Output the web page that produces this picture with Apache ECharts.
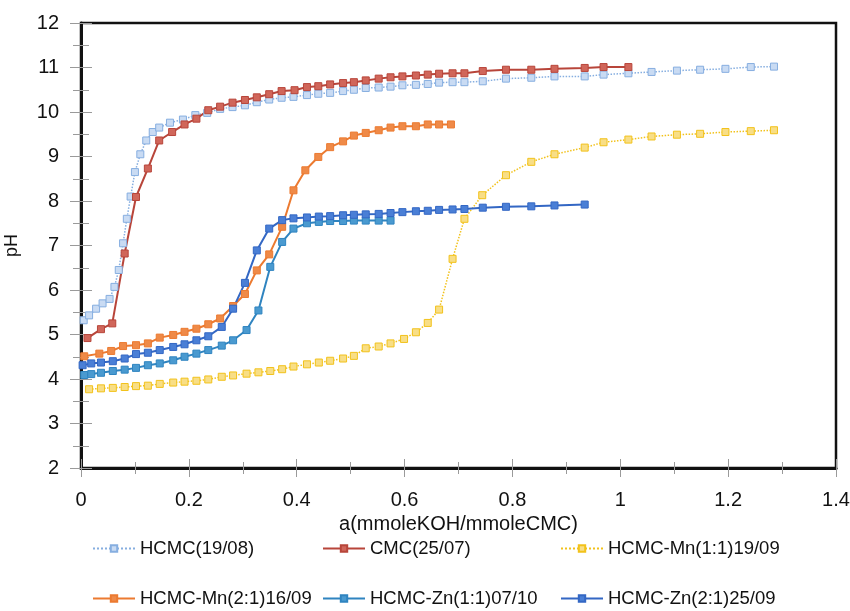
<!DOCTYPE html>
<html>
<head>
<meta charset="utf-8">
<script src="https://cdn.jsdelivr.net/npm/echarts@6/dist/echarts.min.js"></script>
<style>
  html, body { margin: 0; padding: 0; background: #fff; }
  #chart { width: 850px; height: 611px; }
</style>
</head>
<body>
<div id="chart"></div>
<script>
// Titration curves: pH versus a (mmole KOH per mmole CMC)
const seriesNames = [
  'HCMC(19/08)',
  'CMC(25/07)',
  'HCMC-Mn(1:1)19/09',
  'HCMC-Mn(2:1)16/09',
  'HCMC-Zn(1:1)07/10',
  'HCMC-Zn(2:1)25/09'
];

const hcmc = [[0.005,5.32],[0.015,5.43],[0.028,5.58],[0.04,5.70],[0.053,5.80],[0.062,6.07],[0.07,6.45],[0.078,7.05],[0.085,7.6],[0.092,8.1],[0.1,8.65],[0.11,9.05],[0.121,9.36],[0.133,9.55],[0.145,9.65],[0.165,9.76],[0.189,9.83],[0.212,9.93],[0.234,9.98],[0.258,10.07],[0.281,10.11],[0.304,10.15],[0.326,10.22],[0.349,10.28],[0.372,10.32],[0.394,10.34],[0.419,10.38],[0.44,10.41],[0.462,10.43],[0.486,10.47],[0.506,10.50],[0.528,10.54],[0.552,10.55],[0.574,10.57],[0.596,10.6],[0.621,10.61],[0.643,10.63],[0.664,10.66],[0.689,10.67],[0.711,10.67],[0.745,10.69],[0.788,10.75],[0.835,10.77],[0.878,10.8],[0.934,10.8],[0.969,10.84],[1.015,10.87],[1.058,10.9],[1.105,10.93],[1.148,10.95],[1.195,10.97],[1.242,11.01],[1.285,11.02]];

const cmc = [[0.012,4.92],[0.037,5.12],[0.058,5.25],[0.081,6.82],[0.102,8.09],[0.124,8.73],[0.145,9.36],[0.169,9.55],[0.192,9.72],[0.214,9.85],[0.236,10.04],[0.258,10.12],[0.281,10.21],[0.304,10.27],[0.326,10.33],[0.349,10.40],[0.372,10.47],[0.396,10.49],[0.419,10.56],[0.44,10.58],[0.462,10.62],[0.486,10.65],[0.506,10.67],[0.528,10.71],[0.552,10.75],[0.574,10.78],[0.596,10.80],[0.621,10.82],[0.643,10.84],[0.664,10.86],[0.689,10.87],[0.711,10.87],[0.745,10.92],[0.788,10.95],[0.835,10.95],[0.878,10.97],[0.934,10.99],[0.969,11.01],[1.015,11.01]];

const mn11 = [[0.015,3.77],[0.037,3.79],[0.059,3.80],[0.081,3.82],[0.102,3.84],[0.124,3.85],[0.146,3.89],[0.171,3.92],[0.192,3.94],[0.214,3.96],[0.236,3.99],[0.261,4.05],[0.282,4.08],[0.307,4.12],[0.329,4.15],[0.351,4.18],[0.373,4.22],[0.394,4.28],[0.419,4.33],[0.441,4.37],[0.462,4.41],[0.486,4.46],[0.506,4.52],[0.528,4.69],[0.552,4.73],[0.574,4.80],[0.599,4.90],[0.621,5.05],[0.643,5.26],[0.664,5.56],[0.689,6.70],[0.711,7.60],[0.744,8.13],[0.788,8.58],[0.835,8.88],[0.878,9.05],[0.934,9.20],[0.969,9.32],[1.015,9.38],[1.058,9.45],[1.105,9.49],[1.148,9.51],[1.195,9.55],[1.242,9.57],[1.285,9.59]];

const mn21 = [[0.006,4.51],[0.034,4.57],[0.056,4.63],[0.078,4.74],[0.102,4.76],[0.124,4.80],[0.146,4.93],[0.171,4.99],[0.192,5.06],[0.214,5.13],[0.236,5.23],[0.258,5.36],[0.282,5.64],[0.304,5.91],[0.326,6.44],[0.349,6.80],[0.373,7.42],[0.394,8.24],[0.416,8.69],[0.44,8.99],[0.462,9.21],[0.486,9.34],[0.506,9.47],[0.528,9.53],[0.552,9.59],[0.574,9.65],[0.596,9.68],[0.621,9.68],[0.643,9.72],[0.664,9.72],[0.686,9.72]];

const zn11 = [[0.006,4.09],[0.019,4.11],[0.037,4.14],[0.059,4.18],[0.081,4.21],[0.102,4.25],[0.124,4.31],[0.146,4.35],[0.171,4.42],[0.192,4.50],[0.214,4.57],[0.236,4.65],[0.261,4.75],[0.282,4.87],[0.307,5.10],[0.329,5.54],[0.351,6.52],[0.373,7.08],[0.394,7.38],[0.419,7.50],[0.441,7.53],[0.462,7.55],[0.486,7.55],[0.506,7.56],[0.528,7.56],[0.552,7.56],[0.574,7.56]];

const zn21 = [[0.003,4.31],[0.019,4.35],[0.037,4.37],[0.059,4.40],[0.081,4.46],[0.102,4.56],[0.124,4.59],[0.146,4.65],[0.171,4.72],[0.192,4.78],[0.214,4.87],[0.236,4.96],[0.261,5.17],[0.282,5.58],[0.304,6.16],[0.326,6.89],[0.349,7.38],[0.373,7.57],[0.394,7.61],[0.419,7.63],[0.441,7.65],[0.462,7.66],[0.486,7.68],[0.506,7.69],[0.528,7.70],[0.552,7.71],[0.574,7.73],[0.596,7.75],[0.621,7.77],[0.643,7.78],[0.664,7.80],[0.689,7.81],[0.711,7.82],[0.745,7.85],[0.788,7.87],[0.835,7.88],[0.878,7.90],[0.934,7.92]];

const seriesData = [hcmc, cmc, mn11, mn21, zn11, zn21];

// Visual style per series: line colour, marker fill, line type
const styles = [
  { color: '#86aee0', fill: '#c9dbf3', type: 'dotted', width: 1.5 },
  { color: '#b8453a', fill: '#d0665a', type: 'solid',  width: 2 },
  { color: '#f2c21b', fill: '#f8de86', type: 'dotted', width: 1.5 },
  { color: '#ec7a30', fill: '#ef8a48', type: 'solid',  width: 2 },
  { color: '#2f84c0', fill: '#4a9ad0', type: 'solid',  width: 2 },
  { color: '#3367c4', fill: '#4a7fd6', type: 'solid',  width: 2 }
];

const FONT = '"Liberation Sans", Arial, sans-serif';

const series = seriesNames.map((name, i) => ({
  name,
  type: 'line',
  data: seriesData[i],
  xAxisIndex: 0,
  yAxisIndex: 0,
  symbol: 'rect',
  symbolSize: 7,
  showSymbol: true,
  animation: false,
  lineStyle: { color: styles[i].color, width: styles[i].width, type: styles[i].type },
  itemStyle: { color: styles[i].fill, borderColor: styles[i].color, borderWidth: 1 },
  emphasis: { disabled: true }
}));

// Legend: 3 columns x 2 rows
const legendPos = [
  { left: 92,  top: 539 },
  { left: 322, top: 539 },
  { left: 560, top: 539 },
  { left: 92,  top: 589 },
  { left: 322, top: 589 },
  { left: 560, top: 589 }
];
const legends = seriesNames.map((name, i) => ({
  data: [name],
  left: legendPos[i].left,
  top: legendPos[i].top,
  padding: 0,
  itemWidth: 42,
  itemHeight: 8,
  itemGap: 0,
  textStyle: { fontFamily: FONT, fontSize: 18.5, color: '#111' },
  selectedMode: false
}));

const tickColor = '#9a9a9a';

const option = {
  backgroundColor: '#ffffff',
  animation: false,
  grid: {
    left: 81, right: 14, top: 23, bottom: 143,
    outerBoundsMode: 'none', containLabel: false,
    show: true, borderColor: '#111', borderWidth: 2.5, backgroundColor: 'transparent'
  },
  legend: legends,
  xAxis: [
    {
      type: 'value', min: 0, max: 1.4, interval: 0.2,
      name: 'a(mmoleKOH/mmoleCMC)', nameLocation: 'middle', nameGap: 46,
      nameTextStyle: { fontFamily: FONT, fontSize: 20, color: '#111' },
      axisLine: { show: true, onZero: false, lineStyle: { color: '#111', width: 3 } },
      axisTick: { show: true, inside: false, length: 9, lineStyle: { color: tickColor, width: 1 } },
      minorTick: { show: true, splitNumber: 2, length: 6, lineStyle: { color: tickColor, width: 1 } },
      axisLabel: { fontFamily: FONT, fontSize: 20, color: '#111', margin: 22,
        formatter: v => String(Math.round(v * 10) / 10) },
      splitLine: { show: false }
    },
    {
      type: 'value', min: 0, max: 1.4, interval: 0.2, position: 'bottom',
      axisLine: { show: false, onZero: false },
      axisTick: { show: true, inside: true, length: 9, lineStyle: { color: tickColor, width: 1 } },
      minorTick: { show: true, splitNumber: 2, length: 6, lineStyle: { color: tickColor, width: 1 } },
      axisLabel: { show: false },
      splitLine: { show: false }
    }
  ],
  yAxis: [
    {
      type: 'value', min: 2, max: 12, interval: 1,
      name: 'pH', nameLocation: 'middle', nameGap: 60,
      nameTextStyle: { fontFamily: FONT, fontSize: 18, color: '#111' },
      axisLine: { show: true, onZero: false, lineStyle: { color: '#111', width: 3 } },
      axisTick: { show: true, inside: false, length: 11, lineStyle: { color: tickColor, width: 1 } },
      minorTick: { show: true, splitNumber: 2, length: 8, lineStyle: { color: tickColor, width: 1 } },
      axisLabel: { fontFamily: FONT, fontSize: 20, color: '#111', margin: 22 },
      splitLine: { show: false }
    },
    {
      type: 'value', min: 2, max: 12, interval: 1, position: 'left',
      axisLine: { show: false, onZero: false },
      axisTick: { show: true, inside: true, length: 11, lineStyle: { color: tickColor, width: 1 } },
      minorTick: { show: true, splitNumber: 2, length: 8, lineStyle: { color: tickColor, width: 1 } },
      axisLabel: { show: false },
      splitLine: { show: false }
    }
  ],
  series
};

const chart = echarts.init(document.getElementById('chart'), null, { renderer: 'canvas' });
chart.setOption(option);
</script>
</body>
</html>
